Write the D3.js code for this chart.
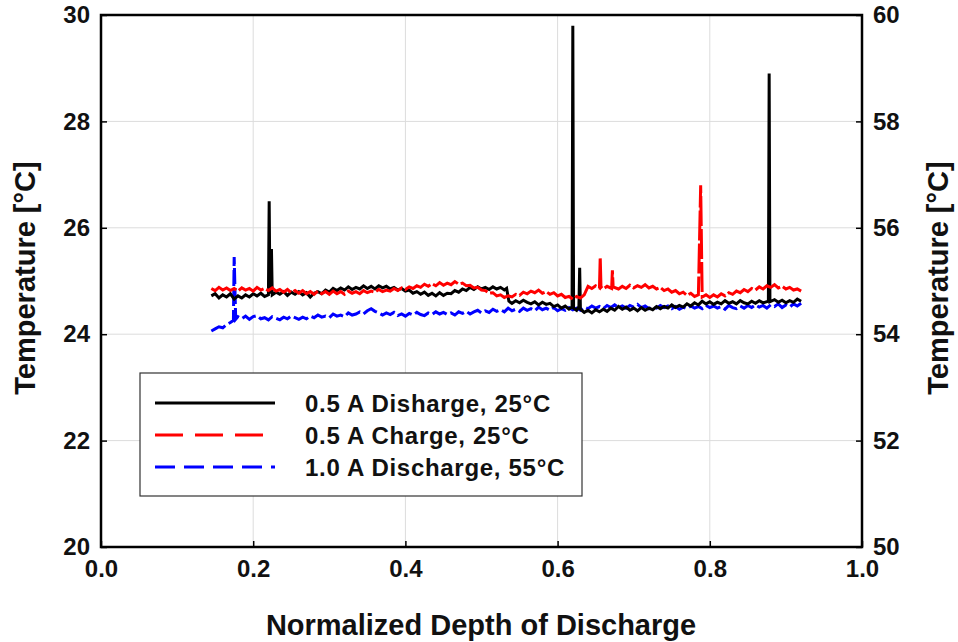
<!DOCTYPE html>
<html><head><meta charset="utf-8">
<script src="https://cdn.jsdelivr.net/npm/d3@7"></script>
<style>body{margin:0;background:#fff}svg{display:block}text{font-family:Arial,"Liberation Sans",sans-serif;font-weight:bold;fill:#111}</style>
</head><body><svg id="c" width="958" height="642"></svg>
<script>
// ---- data ----
const xTicks = [0.0, 0.2, 0.4, 0.6, 0.8, 1.0];
const yLeftTicks = [20, 22, 24, 26, 28, 30];
const yRightTicks = [50, 52, 54, 56, 58, 60];
const seriesNames = ["0.5 A Disharge, 25°C", "0.5 A Charge, 25°C", "1.0 A Discharge, 55°C"];

// [depth, temperature °C] — left axis
const black = [[0.145,24.72],[0.150,24.76],[0.155,24.68],[0.160,24.74],[0.165,24.70],[0.170,24.76],[0.175,24.66],[0.180,24.72],[0.185,24.68],[0.190,24.74],[0.195,24.70],[0.200,24.76],[0.205,24.72],[0.210,24.77],[0.215,24.71],[0.220,24.74],[0.221,26.50],[0.222,24.76],[0.224,25.60],[0.225,24.74],[0.230,24.79],[0.235,24.75],[0.240,24.80],[0.245,24.73],[0.250,24.79],[0.255,24.75],[0.260,24.80],[0.265,24.74],[0.270,24.78],[0.275,24.70],[0.280,24.77],[0.285,24.80],[0.290,24.76],[0.295,24.83],[0.300,24.79],[0.305,24.86],[0.310,24.82],[0.315,24.87],[0.320,24.83],[0.325,24.89],[0.330,24.84],[0.335,24.88],[0.340,24.85],[0.345,24.91],[0.350,24.86],[0.355,24.90],[0.360,24.85],[0.365,24.91],[0.370,24.87],[0.375,24.90],[0.380,24.85],[0.385,24.88],[0.390,24.83],[0.395,24.86],[0.400,24.81],[0.405,24.83],[0.410,24.77],[0.415,24.80],[0.420,24.75],[0.425,24.79],[0.430,24.73],[0.435,24.77],[0.440,24.72],[0.445,24.78],[0.450,24.73],[0.455,24.77],[0.460,24.76],[0.465,24.82],[0.470,24.79],[0.475,24.85],[0.480,24.82],[0.485,24.88],[0.490,24.84],[0.495,24.89],[0.500,24.85],[0.505,24.88],[0.510,24.84],[0.515,24.89],[0.520,24.85],[0.525,24.88],[0.530,24.83],[0.533,24.86],[0.536,24.62],[0.540,24.58],[0.545,24.63],[0.550,24.59],[0.555,24.64],[0.560,24.60],[0.565,24.57],[0.570,24.61],[0.575,24.55],[0.580,24.60],[0.585,24.56],[0.590,24.58],[0.595,24.52],[0.600,24.55],[0.605,24.49],[0.610,24.53],[0.615,24.47],[0.619,24.51],[0.620,29.80],[0.621,24.49],[0.625,24.45],[0.628,24.52],[0.629,25.25],[0.630,24.47],[0.635,24.41],[0.640,24.45],[0.645,24.40],[0.650,24.46],[0.655,24.42],[0.660,24.47],[0.665,24.43],[0.670,24.49],[0.675,24.45],[0.680,24.52],[0.685,24.47],[0.690,24.51],[0.695,24.45],[0.700,24.49],[0.705,24.44],[0.710,24.50],[0.715,24.45],[0.720,24.49],[0.725,24.46],[0.730,24.52],[0.735,24.48],[0.740,24.52],[0.745,24.49],[0.750,24.55],[0.755,24.50],[0.760,24.54],[0.765,24.51],[0.770,24.57],[0.775,24.53],[0.780,24.59],[0.785,24.55],[0.790,24.62],[0.795,24.57],[0.800,24.61],[0.805,24.56],[0.810,24.60],[0.815,24.57],[0.820,24.63],[0.825,24.58],[0.830,24.61],[0.835,24.57],[0.840,24.63],[0.845,24.59],[0.850,24.57],[0.855,24.62],[0.860,24.58],[0.865,24.63],[0.870,24.59],[0.877,24.62],[0.878,28.90],[0.879,24.61],[0.885,24.65],[0.890,24.60],[0.895,24.64],[0.900,24.59],[0.905,24.63],[0.910,24.60],[0.915,24.66],[0.920,24.62]];

const red = [[0.145,24.86],[0.150,24.82],[0.155,24.88],[0.160,24.83],[0.165,24.87],[0.170,24.82],[0.175,24.86],[0.180,24.81],[0.185,24.87],[0.190,24.83],[0.195,24.86],[0.200,24.81],[0.205,24.88],[0.210,24.83],[0.215,24.86],[0.220,24.82],[0.225,24.87],[0.230,24.81],[0.235,24.84],[0.240,24.79],[0.245,24.84],[0.250,24.78],[0.255,24.82],[0.260,24.77],[0.265,24.82],[0.270,24.76],[0.275,24.80],[0.280,24.75],[0.285,24.81],[0.290,24.76],[0.295,24.80],[0.300,24.75],[0.305,24.81],[0.310,24.76],[0.315,24.80],[0.320,24.75],[0.325,24.81],[0.330,24.77],[0.335,24.80],[0.340,24.76],[0.345,24.82],[0.350,24.78],[0.355,24.81],[0.360,24.79],[0.365,24.84],[0.370,24.80],[0.375,24.83],[0.380,24.81],[0.385,24.86],[0.390,24.82],[0.395,24.87],[0.400,24.84],[0.405,24.89],[0.410,24.86],[0.415,24.91],[0.420,24.88],[0.425,24.94],[0.430,24.90],[0.435,24.95],[0.440,24.91],[0.445,24.97],[0.450,24.92],[0.455,24.96],[0.460,24.93],[0.465,24.99],[0.470,24.94],[0.475,24.96],[0.480,24.91],[0.485,24.92],[0.490,24.87],[0.495,24.88],[0.500,24.83],[0.505,24.82],[0.510,24.77],[0.515,24.78],[0.520,24.72],[0.525,24.74],[0.530,24.69],[0.535,24.72],[0.540,24.70],[0.545,24.75],[0.550,24.73],[0.555,24.79],[0.560,24.76],[0.565,24.81],[0.570,24.78],[0.575,24.83],[0.580,24.77],[0.585,24.80],[0.590,24.75],[0.595,24.78],[0.600,24.72],[0.605,24.75],[0.610,24.69],[0.615,24.71],[0.620,24.66],[0.625,24.71],[0.630,24.68],[0.635,24.74],[0.640,24.90],[0.645,24.86],[0.650,24.91],[0.655,24.87],[0.656,25.45],[0.657,24.89],[0.660,24.85],[0.665,24.90],[0.671,24.86],[0.672,25.20],[0.673,24.89],[0.680,24.85],[0.685,24.90],[0.690,24.86],[0.695,24.92],[0.700,24.87],[0.705,24.91],[0.710,24.88],[0.715,24.93],[0.720,24.87],[0.725,24.90],[0.730,24.85],[0.735,24.88],[0.740,24.82],[0.745,24.85],[0.750,24.79],[0.755,24.82],[0.760,24.76],[0.765,24.79],[0.770,24.73],[0.775,24.77],[0.780,24.71],[0.785,24.74],[0.788,26.80],[0.790,24.70],[0.795,24.74],[0.800,24.69],[0.805,24.74],[0.810,24.70],[0.815,24.76],[0.820,24.72],[0.825,24.78],[0.830,24.75],[0.835,24.81],[0.840,24.78],[0.845,24.84],[0.850,24.80],[0.855,24.86],[0.860,24.83],[0.865,24.89],[0.870,24.85],[0.875,24.91],[0.880,24.88],[0.885,24.93],[0.890,24.87],[0.895,24.90],[0.900,24.85],[0.905,24.88],[0.910,24.83],[0.915,24.85],[0.920,24.81]];

// [depth, temperature °C] — right axis
const blue = [[0.145,54.06],[0.150,54.10],[0.155,54.14],[0.160,54.12],[0.165,54.18],[0.170,54.22],[0.174,54.26],[0.175,55.45],[0.177,54.28],[0.180,54.33],[0.185,54.29],[0.190,54.34],[0.195,54.28],[0.200,54.33],[0.205,54.35],[0.210,54.29],[0.215,54.31],[0.220,54.27],[0.225,54.33],[0.230,54.30],[0.235,54.27],[0.240,54.32],[0.245,54.29],[0.250,54.34],[0.255,54.31],[0.260,54.28],[0.265,54.32],[0.270,54.29],[0.275,54.34],[0.280,54.31],[0.285,54.36],[0.290,54.32],[0.295,54.34],[0.300,54.31],[0.305,54.38],[0.310,54.34],[0.315,54.36],[0.320,54.33],[0.325,54.40],[0.330,54.36],[0.335,54.38],[0.340,54.42],[0.345,54.38],[0.350,54.44],[0.355,54.48],[0.360,54.43],[0.365,54.40],[0.370,54.36],[0.375,54.40],[0.380,54.37],[0.385,54.41],[0.390,54.35],[0.395,54.38],[0.400,54.34],[0.405,54.39],[0.410,54.36],[0.415,54.41],[0.420,54.37],[0.425,54.35],[0.430,54.40],[0.435,54.37],[0.440,54.42],[0.445,54.38],[0.450,54.41],[0.455,54.37],[0.460,54.40],[0.465,54.36],[0.470,54.42],[0.475,54.39],[0.480,54.43],[0.485,54.38],[0.490,54.42],[0.495,54.45],[0.500,54.40],[0.505,54.44],[0.510,54.41],[0.515,54.47],[0.520,54.43],[0.525,54.46],[0.530,54.42],[0.535,54.49],[0.540,54.44],[0.545,54.47],[0.550,54.43],[0.555,54.49],[0.560,54.45],[0.565,54.48],[0.570,54.44],[0.575,54.51],[0.580,54.46],[0.585,54.49],[0.590,54.45],[0.595,54.50],[0.600,54.44],[0.605,54.48],[0.610,54.45],[0.615,54.50],[0.620,54.46],[0.625,54.49],[0.630,54.45],[0.635,54.51],[0.640,54.48],[0.645,54.53],[0.650,54.49],[0.655,54.52],[0.660,54.48],[0.665,54.54],[0.670,54.50],[0.675,54.55],[0.680,54.50],[0.685,54.53],[0.690,54.49],[0.695,54.54],[0.700,54.51],[0.705,54.56],[0.710,54.50],[0.715,54.53],[0.720,54.48],[0.725,54.52],[0.730,54.49],[0.735,54.54],[0.740,54.50],[0.745,54.53],[0.750,54.48],[0.755,54.52],[0.760,54.47],[0.765,54.51],[0.770,54.48],[0.775,54.53],[0.780,54.49],[0.785,54.52],[0.790,54.48],[0.795,54.54],[0.800,54.50],[0.805,54.53],[0.810,54.49],[0.815,54.52],[0.820,54.47],[0.825,54.54],[0.830,54.50],[0.835,54.48],[0.840,54.53],[0.845,54.49],[0.850,54.54],[0.855,54.50],[0.860,54.55],[0.865,54.51],[0.870,54.54],[0.875,54.49],[0.880,54.55],[0.885,54.52],[0.890,54.57],[0.895,54.50],[0.900,54.55],[0.905,54.51],[0.910,54.57],[0.915,54.53],[0.920,54.58]];

// ---- layout ----
const svg = d3.select("#c");
const L = 101, R = 862, T = 15, B = 547;
const FONT = "Arial, 'Liberation Sans', sans-serif";
const x = d3.scaleLinear().domain([0, 1]).range([L, R]);
const yL = d3.scaleLinear().domain([20, 30]).range([B, T]);
const yR = d3.scaleLinear().domain([50, 60]).range([B, T]);

// grid
svg.append("g").selectAll("line").data(xTicks.slice(1, -1)).join("line")
  .attr("x1", d => x(d)).attr("x2", d => x(d)).attr("y1", T).attr("y2", B)
  .attr("stroke", "#dcdcdc").attr("stroke-width", 1);
svg.append("g").selectAll("line").data(yLeftTicks.slice(1, -1)).join("line")
  .attr("y1", d => yL(d)).attr("y2", d => yL(d)).attr("x1", L).attr("x2", R)
  .attr("stroke", "#dcdcdc").attr("stroke-width", 1);

// series
const lineL = d3.line().x(d => x(d[0])).y(d => yL(d[1]));
const lineR = d3.line().x(d => x(d[0])).y(d => yR(d[1]));
svg.append("path").datum(blue).attr("d", lineR)
  .attr("fill", "none").attr("stroke", "#0000ff").attr("stroke-width", 3).attr("stroke-dasharray", "16,4");
svg.append("path").datum(black).attr("d", lineL)
  .attr("fill", "none").attr("stroke", "#000").attr("stroke-width", 3);
svg.append("path").datum(red).attr("d", lineL)
  .attr("fill", "none").attr("stroke", "#ff0000").attr("stroke-width", 3).attr("stroke-dasharray", "30,3");

// axes
const axB = d3.axisBottom(x).tickValues(xTicks).tickFormat(d3.format(".1f")).tickSizeInner(-6).tickSizeOuter(0).tickPadding(13);
const axL = d3.axisLeft(yL).tickValues(yLeftTicks).tickFormat(d3.format("d")).tickSizeInner(-6).tickSizeOuter(0).tickPadding(11);
const axR = d3.axisRight(yR).tickValues(yRightTicks).tickFormat(d3.format("d")).tickSizeInner(-6).tickSizeOuter(0).tickPadding(11);
const styleAx = g => {
  g.select(".domain").remove();
  g.selectAll(".tick line").attr("stroke", "#000").attr("stroke-width", 1.5);
  g.selectAll(".tick text").attr("font-size", 24).attr("font-family", FONT).attr("font-weight", "bold").attr("fill", "#111");
};
svg.append("g").attr("transform", `translate(0,${B})`).call(axB).call(styleAx);
svg.append("g").attr("transform", `translate(${L},0)`).call(axL).call(styleAx);
svg.append("g").attr("transform", `translate(${R},0)`).call(axR).call(styleAx);

// frame
svg.append("rect").attr("x", L).attr("y", T).attr("width", R - L).attr("height", B - T)
  .attr("fill", "none").attr("stroke", "#000").attr("stroke-width", 2.5);

// titles
svg.append("text").attr("x", 481).attr("y", 635).attr("text-anchor", "middle").attr("font-size", 29).text("Normalized Depth of Discharge");
svg.append("text").attr("transform", `translate(35,278) rotate(-90)`).attr("text-anchor", "middle").attr("font-size", 29).text("Temperature [°C]");
svg.append("text").attr("transform", `translate(948,278) rotate(-90)`).attr("text-anchor", "middle").attr("font-size", 29).text("Temperature [°C]");

// legend
const lg = svg.append("g");
lg.append("rect").attr("x", 140).attr("y", 373).attr("width", 442).attr("height", 123)
  .attr("fill", "#fff").attr("stroke", "#333").attr("stroke-width", 1.2);
const lgColors = ["#000", "#ff0000", "#0000ff"];
const lgDash = [null, "28,12", "20,9"];
seriesNames.forEach((n, i) => {
  const yy = 403 + i * 32;
  lg.append("line").attr("x1", 155).attr("x2", 275).attr("y1", yy).attr("y2", yy)
    .attr("stroke", lgColors[i]).attr("stroke-width", 3).attr("stroke-dasharray", lgDash[i]);
  lg.append("text").attr("x", 305).attr("y", yy + 9).attr("font-size", 24).attr("letter-spacing", 0.7).text(n);
});
</script></body></html>
